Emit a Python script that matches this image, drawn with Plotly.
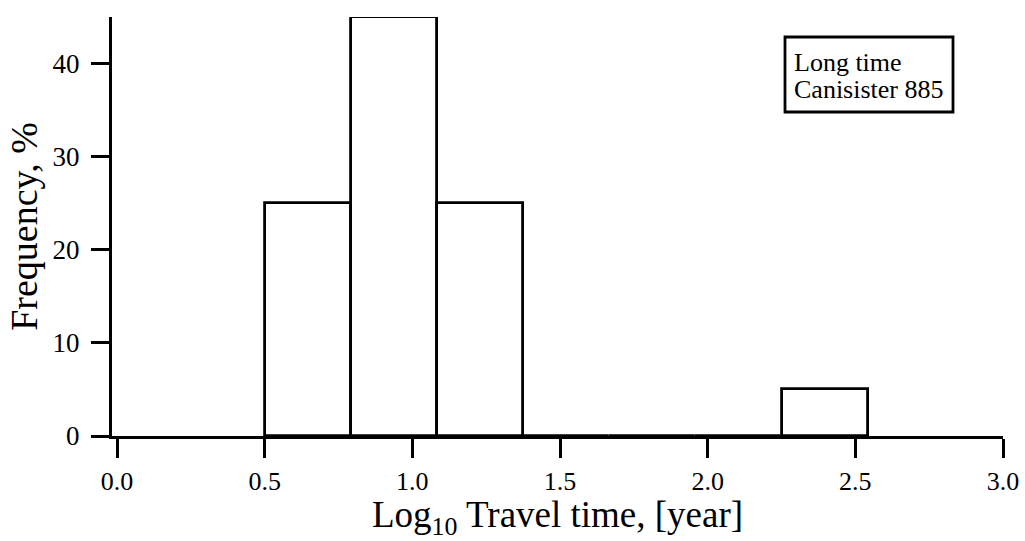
import plotly.graph_objects as go

# Histogram of log10 travel times (bin left edges, common bin width, % frequency)
bin_left = [0.500, 0.792, 1.083, 1.375, 1.667, 1.958, 2.250]
bin_width = 0.2917
frequency = [25, 45, 25, 0, 0, 0, 5]

x_ticks = [0.0, 0.5, 1.0, 1.5, 2.0, 2.5, 3.0]
y_ticks = [0, 10, 20, 30, 40]

legend_lines = ["Long time", "Canisister 885"]

FONT = "Liberation Serif"

# plot area in pixels (used to place the boxed label in paper coordinates)
W, H = 1025, 541
L_M, R_M, T_M, B_M = 112, 22, 17, 105
PW, PH = W - L_M - R_M, H - T_M - B_M


def px_x(px):
    return (px - L_M) / PW


def px_y(py):
    return (H - B_M - py) / PH


centers = [b + bin_width / 2 for b in bin_left]

fig = go.Figure(
    go.Bar(
        x=centers,
        y=frequency,
        width=[bin_width] * len(bin_left),
        marker=dict(color="white", line=dict(color="black", width=2.8)),
        showlegend=False,
        hoverinfo="x+y",
    )
)

# boxed label: frame + one text line per entry
box = dict(x0=785, x1=953, y0=37, y1=112)
line_centers = [62, 90]

fig.add_shape(
    type="rect",
    xref="paper",
    yref="paper",
    x0=px_x(box["x0"]),
    x1=px_x(box["x1"]),
    y0=px_y(box["y1"]),
    y1=px_y(box["y0"]),
    line=dict(color="black", width=2.8),
    fillcolor="white",
    layer="above",
)
for txt, cy in zip(legend_lines, line_centers):
    fig.add_annotation(
        x=px_x(box["x0"] + 7),
        y=px_y(cy),
        xref="paper",
        yref="paper",
        xanchor="left",
        yanchor="middle",
        text=txt,
        showarrow=False,
        font=dict(size=26, family=FONT, color="black"),
    )

fig.update_layout(
    width=W,
    height=H,
    margin=dict(l=L_M, r=R_M, t=T_M, b=B_M),
    paper_bgcolor="white",
    plot_bgcolor="white",
    font=dict(family=FONT, color="black", size=27),
    bargap=0,
    xaxis=dict(
        range=[-0.017, 3.0],
        automargin=False,
        tickvals=x_ticks,
        ticktext=[f"{v:.1f}" for v in x_ticks],
        ticks="outside",
        ticklen=19,
        tickwidth=2.5,
        tickcolor="black",
        ticklabelstandoff=1,
        showline=True,
        linecolor="black",
        linewidth=3,
        showgrid=False,
        zeroline=False,
        tickfont=dict(size=26, family=FONT),
        title=dict(text="Log<sub>10</sub> Travel time, [year]",
                   font=dict(size=37, family=FONT), standoff=4),
    ),
    yaxis=dict(
        range=[0, 45],
        automargin=False,
        tickvals=y_ticks,
        ticks="outside",
        ticklen=18,
        tickwidth=2.5,
        tickcolor="black",
        ticklabelstandoff=6,
        showline=True,
        linecolor="black",
        linewidth=3,
        showgrid=False,
        zeroline=False,
        tickfont=dict(size=27, family=FONT),
        title=dict(text="Frequency, %", font=dict(size=38, family=FONT), standoff=4),
    ),
)

fig.write_html("out.html")
